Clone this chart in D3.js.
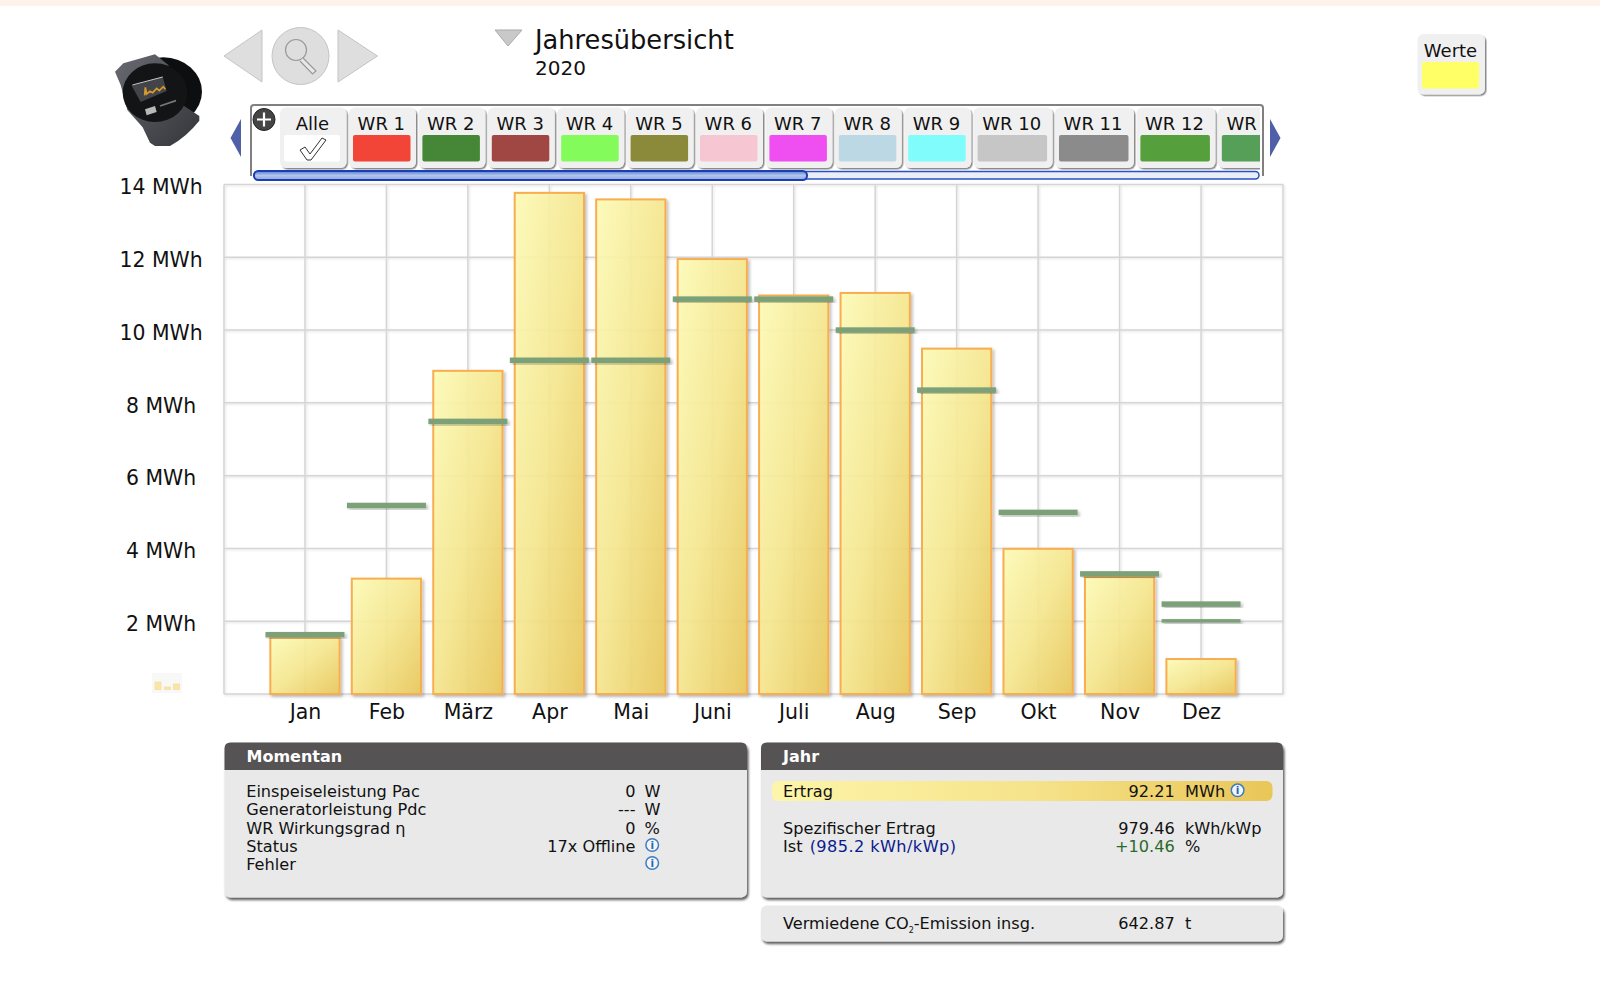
<!DOCTYPE html>
<html>
<head>
<meta charset="utf-8">
<title>Jahresübersicht</title>
<script src="https://cdn.jsdelivr.net/npm/d3@7/dist/d3.min.js"></script>
<style>
  html, body { margin: 0; padding: 0; background: #fff; }
  svg { display: block; }
  text { font-family: "DejaVu Sans", sans-serif; fill: #111; }
</style>
</head>
<body>
<div id="chart"></div>
<script>
// chart data
const months = ['Jan', 'Feb', 'März', 'Apr', 'Mai', 'Juni', 'Juli', 'Aug', 'Sep', 'Okt', 'Nov', 'Dez'];
const ertrag = [1.55, 3.17, 8.88, 13.77, 13.59, 11.95, 10.95, 11.02, 9.49, 3.99, 3.21, 0.96];
const soll = [1.63, 5.18, 7.49, 9.17, 9.17, 10.85, 10.85, 10.0, 8.35, 4.99, 3.30, 2.47];
const soll2 = [{ month: 'Dez', value: 2.01 }];
const yTicks = [2, 4, 6, 8, 10, 12, 14];

const tabNames = ['WR 1', 'WR 2', 'WR 3', 'WR 4', 'WR 5', 'WR 6', 'WR 7', 'WR 8', 'WR 9', 'WR 10', 'WR 11', 'WR 12', 'WR 13'];
const tabColors = ['#f24537', '#458637', '#a04643', '#83fb5a', '#8a8a3a', '#f6c6d2', '#ef4ef0', '#bcd8e4', '#80fcfc', '#c6c6c6', '#8b8b8b', '#559f3c', '#559f58'];

const momentanLabels = ['Einspeiseleistung Pac', 'Generatorleistung Pdc', 'WR Wirkungsgrad η', 'Status', 'Fehler'];
const momentanValues = ['0', '---', '0', '17x Offline', ''];
const momentanUnits = ['W', 'W', '%', '', ''];

const svg = d3.select('#chart').append('svg').attr('width', 1600).attr('height', 981);
const defs = svg.append('defs');

function gradient(id, x2, y2, stops) {
  const g = defs.append('linearGradient').attr('id', id)
    .attr('x1', 0).attr('y1', 0).attr('x2', x2).attr('y2', y2);
  stops.forEach((c, i) => g.append('stop').attr('offset', i / (stops.length - 1)).attr('stop-color', c));
}
gradient('barFill', 1, 1, ['#fffdb8', '#f7e88f', '#e9c85a']);
gradient('ertragFill', 1, 0, ['#fdf5a9', '#f6e48c', '#e9c658']);
gradient('thumbFill', 0, 1, ['#4f80dc', '#b4c4ea', '#8fa6e0']);
gradient('bodyFill', 1, 1, ['#6a6b72', '#34353a']);

function shadow(id, dx, dy, blur, op) {
  defs.append('filter').attr('id', id).attr('x', '-10%').attr('y', '-10%').attr('width', '125%').attr('height', '130%')
    .append('feDropShadow').attr('dx', dx).attr('dy', dy).attr('stdDeviation', blur)
    .attr('flood-color', '#000').attr('flood-opacity', op);
}
shadow('barShadow', 2, 2, 1.5, 0.25);
shadow('tabShadow', 1.5, 1.5, 0.6, 0.45);
shadow('panelShadow', 1.5, 2.5, 1, 0.65);
shadow('gridShadow', 1, 1, 1, 0.12);

// top band
svg.append('rect').attr('width', 1600).attr('height', 6).attr('fill', '#fdf3ea');

// scales
const x = d3.scalePoint().domain(months).range([223.5, 1282.5]).padding(1);
const y = d3.scaleLinear().domain([0, 14]).range([694, 184.5]);
const barW = x.step() * 0.85;
const sollW = x.step() * 0.97;

// grid
const plot = svg.append('g');
const grid = plot.append('g').attr('stroke', '#d5d5d5').attr('stroke-width', 1.5).attr('filter', 'url(#gridShadow)');
grid.selectAll('.h').data([0].concat(yTicks)).enter().append('line')
  .attr('x1', 224).attr('x2', 1283).attr('y1', d => y(d)).attr('y2', d => y(d));
grid.selectAll('.v').data(months).enter().append('line')
  .attr('x1', d => x(d)).attr('x2', d => x(d)).attr('y1', y(14)).attr('y2', y(0));
grid.selectAll('.e').data([224, 1283]).enter().append('line')
  .attr('x1', d => d).attr('x2', d => d).attr('y1', y(14)).attr('y2', y(0));

// axes
const yAxis = d3.axisLeft(y).tickValues(yTicks).tickSize(0).tickFormat(d => d + ' MWh');
const yG = svg.append('g').attr('transform', 'translate(161,0)').call(yAxis);
yG.select('.domain').remove();
yG.selectAll('text').attr('x', 0).attr('dy', 9.2).attr('text-anchor', 'middle')
  .style('font-size', '20.4px').style('font-family', '"DejaVu Sans"');

const xAxis = d3.axisBottom(x).tickSize(0);
const xG = svg.append('g').attr('transform', 'translate(0,693)').call(xAxis);
xG.select('.domain').remove();
xG.selectAll('text').attr('y', 25.7).attr('dy', 0)
  .style('font-size', '20.5px').style('font-family', '"DejaVu Sans"');

// bars
plot.selectAll('.bar').data(months).enter().append('rect')
  .attr('class', 'bar')
  .attr('x', d => x(d) - barW / 2)
  .attr('width', barW)
  .attr('y', (d, i) => y(ertrag[i]))
  .attr('height', (d, i) => y(0) - y(ertrag[i]))
  .attr('fill', 'url(#barFill)').attr('fill-opacity', 0.9)
  .attr('stroke', '#f8ad50').attr('stroke-width', 2)
  .attr('filter', 'url(#barShadow)');

// soll marks
plot.selectAll('.soll').data(months).enter().append('rect')
  .attr('class', 'soll')
  .attr('x', d => x(d) - sollW / 2)
  .attr('width', sollW)
  .attr('y', (d, i) => y(soll[i]) - 2.75)
  .attr('height', 5.5)
  .attr('fill', '#7ba078')
  .attr('filter', 'url(#barShadow)');
plot.selectAll('.soll2').data(soll2).enter().append('rect')
  .attr('x', d => x(d.month) - sollW / 2)
  .attr('width', sollW)
  .attr('y', d => y(d.value) - 1.75)
  .attr('height', 3.5)
  .attr('fill', '#7ba078')
  .attr('filter', 'url(#barShadow)');

// mini chart icon left of the axis
const mini = svg.append('g');
mini.append('rect').attr('x', 152).attr('y', 673).attr('width', 30).attr('height', 20).attr('fill', '#f8f8f6');
mini.selectAll('rect.m').data([[155, 682, 6, 7.5], [164.5, 687, 6, 2.5], [173.5, 684, 6, 5.5]]).enter().append('rect')
  .attr('class', 'm')
  .attr('x', d => d[0]).attr('y', d => d[1]).attr('width', d => d[2]).attr('height', d => d[3])
  .attr('fill', '#f9e6a6').attr('stroke', '#f8d9a0').attr('stroke-width', 0.7);

// device picture
const dev = svg.append('g').attr('transform', 'translate(100,20) scale(0.3333)');
dev.append('ellipse').attr('cx', 190).attr('cy', 215).attr('rx', 116).attr('ry', 103).attr('fill', '#0d0e10');
dev.append('path').attr('d', 'M45,155 L70,130 L165,103 L205,135 L240,250 L298,288 L298,302 Q260,350 210,378 L165,378 L150,368 L128,322 L82,270 L62,195 Z')
  .attr('fill', 'url(#bodyFill)');
dev.append('ellipse').attr('cx', 165).attr('cy', 218).attr('rx', 97).attr('ry', 88).attr('fill', '#131416');
dev.append('path').attr('d', 'M95,197 L188,170 L200,213 L122,246 Z').attr('fill', '#42444a');
dev.append('path').attr('d', 'M97,195 L188,171').attr('stroke', '#c9c9c9').attr('stroke-width', 3);
dev.append('path').attr('d', 'M134,226 L136,202 L140,222 L150,214 L158,218 L170,205 L178,212 L190,200 L196,208')
  .attr('fill', 'none').attr('stroke', '#d99a2a').attr('stroke-width', 5);
dev.append('path').attr('d', 'M135,268 L165,258 L170,276 L140,286 Z').attr('fill', '#b8b8b8');
dev.append('path').attr('d', 'M180,258 L228,242').attr('stroke', '#777').attr('stroke-width', 5);

// navigation
const nav = svg.append('g').attr('fill', '#dedede').attr('stroke', '#c4c4c4').attr('stroke-width', 1);
nav.append('path').attr('d', 'M224,56 L262,30 L262,82 Z');
nav.append('path').attr('d', 'M338,30 L338,82 L377.5,56 Z');
nav.append('circle').attr('cx', 300.5).attr('cy', 56).attr('r', 28.5);
nav.append('circle').attr('cx', 296).attr('cy', 50).attr('r', 10.5).attr('fill', 'none').attr('stroke', '#999').attr('stroke-width', 1.2);
nav.append('path').attr('d', 'M303,58 L316,71 L312.5,74 L300,61').attr('fill', '#e8e8e8').attr('stroke', '#999').attr('stroke-width', 1.2);

// title
svg.append('path').attr('d', 'M495,30 L522,30 L508,46 Z').attr('fill', '#c9c9c9').attr('stroke', '#aaa');
svg.append('text').attr('x', 535).attr('y', 49).style('font-size', '25.7px').text('Jahresübersicht');
svg.append('text').attr('x', 535).attr('y', 74.7).style('font-size', '20px').text('2020');

// Werte box
const werte = svg.append('g');
werte.append('rect').attr('x', 1417.5).attr('y', 34).attr('width', 67.5).attr('height', 60.5).attr('rx', 6)
  .attr('fill', '#f0f0f0').attr('filter', 'url(#tabShadow)');
werte.append('text').attr('x', 1450.5).attr('y', 56.7).attr('text-anchor', 'middle').style('font-size', '18px').text('Werte');
werte.append('rect').attr('x', 1422).attr('y', 62).attr('width', 57).attr('height', 26.5).attr('rx', 2).attr('fill', '#ffff66');

// tab frame
svg.append('path').attr('d', 'M251,176 L251,108 Q251,105 254,105 L1260,105 Q1263,105 1263,108 L1263,176')
  .attr('fill', 'none').attr('stroke', '#808080').attr('stroke-width', 2);

// tabs
defs.append('clipPath').attr('id', 'tabClip').append('rect').attr('x', 252).attr('y', 106).attr('width', 1008).attr('height', 66);
const tabs = svg.append('g').attr('clip-path', 'url(#tabClip)');

const alle = tabs.append('g');
alle.append('rect').attr('x', 280).attr('y', 107.5).attr('width', 66.5).attr('height', 60.5).attr('rx', 6)
  .attr('fill', '#f0f0f0').attr('filter', 'url(#tabShadow)');
alle.append('text').attr('x', 312.5).attr('y', 130).attr('text-anchor', 'middle').style('font-size', '18px').text('Alle');
alle.append('rect').attr('x', 284).attr('y', 135).attr('width', 56).attr('height', 26.5).attr('rx', 2).attr('fill', '#fff');
alle.append('path').attr('d', 'M300,150 L305,147 L310,154 L322,138 L326,140 L311,160 L307,160 Z')
  .attr('fill', '#fff').attr('stroke', '#333').attr('stroke-width', 1);

let tabX = 349;
tabNames.forEach((name, i) => {
  const w = name.length > 4 ? 79 : 67;
  const t = tabs.append('g');
  t.append('rect').attr('x', tabX).attr('y', 107.5).attr('width', w).attr('height', 60.5).attr('rx', 6)
    .attr('fill', '#f0f0f0').attr('filter', 'url(#tabShadow)');
  t.append('text').attr('x', tabX + 8.6).attr('y', 130).style('font-size', '18px').text(name);
  t.append('rect').attr('x', tabX + 4).attr('y', 135).attr('width', w - 9.5).attr('height', 26.5).attr('rx', 2)
    .attr('fill', tabColors[i]);
  tabX += w + 2.4;
});

// plus button
svg.append('circle').attr('cx', 264).attr('cy', 119.5).attr('r', 11).attr('fill', '#454545').attr('stroke', '#222');
svg.append('path').attr('d', 'M257,119.5 L271,119.5 M264,112.5 L264,126.5').attr('stroke', '#fff').attr('stroke-width', 2.2);

// scroll arrows
svg.append('path').attr('d', 'M241,119 L241,157 L230.5,138 Z').attr('fill', '#4f5fa8');
svg.append('path').attr('d', 'M1270,119 L1270,157 L1280.5,138 Z').attr('fill', '#4f5fa8');

// scrollbar
svg.append('rect').attr('x', 254).attr('y', 171.5).attr('width', 1005).attr('height', 7.5).attr('rx', 3.7)
  .attr('fill', '#eaeef6').attr('stroke', '#2a4fc4').attr('stroke-width', 1.5);
svg.append('rect').attr('x', 254).attr('y', 171).attr('width', 553).attr('height', 9).attr('rx', 4.2)
  .attr('fill', 'url(#thumbFill)').attr('stroke', '#1d3db4').attr('stroke-width', 2);

// panels
function panel(px, py, w, h, title) {
  const g = svg.append('g');
  g.append('rect').attr('x', px).attr('y', py).attr('width', w).attr('height', h).attr('rx', 6)
    .attr('fill', '#e9e9e9').attr('filter', 'url(#panelShadow)');
  if (title) {
    g.append('path').attr('d', `M${px},${py + 27.5} L${px},${py + 6} Q${px},${py} ${px + 6},${py} L${px + w - 6},${py} Q${px + w},${py} ${px + w},${py + 6} L${px + w},${py + 27.5} Z`)
      .attr('fill', '#555354');
    g.append('text').attr('x', px + 22).attr('y', py + 19.7).attr('fill', '#fff')
      .style('fill', '#fff').style('font-size', '16px').style('font-weight', 'bold').text(title);
  }
  return g;
}

function info(cx, cy) {
  const g = svg.append('g');
  g.append('circle').attr('cx', cx).attr('cy', cy).attr('r', 6.3).attr('fill', '#f2f6fb').attr('stroke', '#3f7cc0').attr('stroke-width', 1.5);
  g.append('text').attr('x', cx).attr('y', cy + 4).attr('text-anchor', 'middle')
    .style('font-size', '10.5px').style('font-weight', 'bold').style('fill', '#2a68b0').text('i');
}

function label(tx, ty, str, color, anchor) {
  return svg.append('text').attr('x', tx).attr('y', ty).attr('text-anchor', anchor || 'start')
    .style('font-size', '16.15px').style('fill', color || '#111').text(str);
}

panel(224.5, 742.5, 522.5, 155, 'Momentan');
momentanLabels.forEach((d, i) => {
  const ty = 797.2 + i * 18.25;
  label(246.2, ty, d);
  if (momentanValues[i]) label(635.5, ty, momentanValues[i], null, 'end');
  if (momentanUnits[i]) label(644.5, ty, momentanUnits[i]);
});
info(652.2, 845);
info(652.2, 863);

panel(761, 742.5, 522, 155, 'Jahr');
svg.append('rect').attr('x', 772).attr('y', 781).attr('width', 500.5).attr('height', 20).attr('rx', 6).attr('fill', 'url(#ertragFill)');
label(783, 797.2, 'Ertrag');
label(1174.7, 797.2, '92.21', null, 'end');
label(1185, 797.2, 'MWh');
info(1237.6, 790.3);

label(783, 834, 'Spezifischer Ertrag');
label(1174.7, 834, '979.46', null, 'end');
label(1185, 834, 'kWh/kWp');

const ist = label(783, 852.2, 'Ist ');
ist.append('tspan').attr('dx', 2).style('fill', '#0b1b8e').style('letter-spacing', '0.42px').text('(985.2 kWh/kWp)');
label(1174.7, 852.2, '+10.46', '#2b6a2b', 'end');
label(1185, 852.2, '%');

panel(761, 905.5, 522, 36);
const co2 = label(783, 929, 'Vermiedene CO');
co2.append('tspan').attr('dy', 4).style('font-size', '8px').text('2');
co2.append('tspan').attr('dy', -4).text('-Emission insg.');
label(1174.7, 929, '642.87', null, 'end');
label(1185, 929, 't');
</script>
</body>
</html>
